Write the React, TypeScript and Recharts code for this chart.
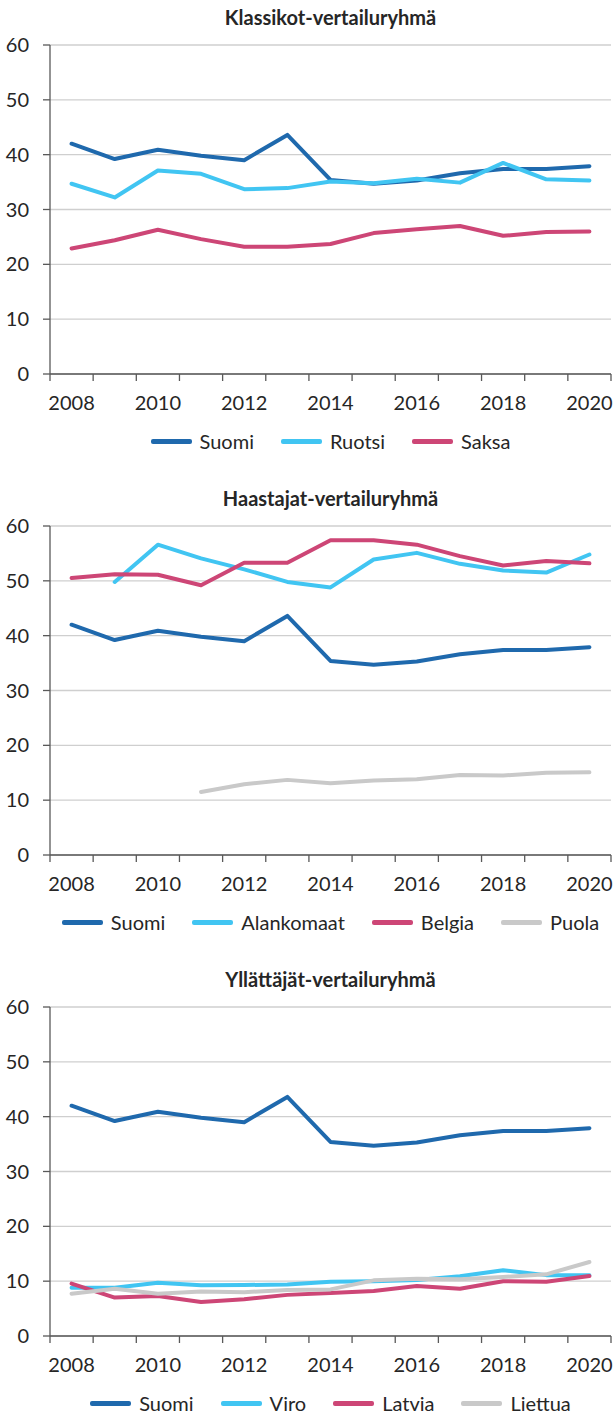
import { LineChart, Line, XAxis, YAxis, CartesianGrid } from "recharts";

// ─── Data ─────────────────────────────────────────────────────────────────────
const YEARS = ["2008", "2009", "2010", "2011", "2012", "2013", "2014", "2015", "2016", "2017", "2018", "2019", "2020"];
const Y_TICKS = [0, 10, 20, 30, 40, 50, 60];

const suomi = [42.0, 39.2, 40.9, 39.8, 39.0, 43.6, 35.4, 34.7, 35.3, 36.6, 37.4, 37.4, 37.9];
const ruotsi = [34.7, 32.2, 37.1, 36.5, 33.7, 33.9, 35.1, 34.8, 35.6, 34.9, 38.5, 35.5, 35.3];
const saksa = [22.9, 24.4, 26.3, 24.6, 23.2, 23.2, 23.7, 25.7, 26.4, 27.0, 25.2, 25.9, 26.0];

const alankomaat = [null, 49.8, 56.6, 54.1, 52.1, 49.8, 48.8, 53.9, 55.1, 53.1, 51.9, 51.5, 54.8];
const belgia = [50.5, 51.2, 51.1, 49.2, 53.3, 53.3, 57.4, 57.4, 56.6, 54.5, 52.8, 53.6, 53.2];
const puola = [null, null, null, 11.5, 12.9, 13.7, 13.1, 13.6, 13.8, 14.6, 14.5, 15.0, 15.1];

const viro = [8.8, 8.8, 9.7, 9.25, 9.3, 9.4, 9.9, 10.0, 10.2, 10.9, 12.0, 11.1, 11.1];
const latvia = [9.55, 7.0, 7.3, 6.2, 6.7, 7.5, 7.85, 8.2, 9.1, 8.6, 10.0, 9.9, 10.95];
const liettua = [7.7, 8.6, 7.7, 8.1, 8.0, 8.4, 8.5, 10.15, 10.45, 10.35, 10.75, 11.25, 13.5];

// ─── Style ────────────────────────────────────────────────────────────────────
const DARK_BLUE = "#1f69ad";
const LIGHT_BLUE = "#41c5f2";
const PINK = "#cd4676";
const GREY = "#c9c9c9";

const FONT = "Lato, 'Open Sans', sans-serif";
const TEXT = "#262626";
const AXIS = "#595959";

const W = 614;
const H = 481;
const LEFT = 50;
const RIGHT = 3;
const PLOT_W = W - LEFT - RIGHT;
const BAND = PLOT_W / YEARS.length;

type Series = { name: string; values: (number | null)[]; color: string };

// Excel-style category ticks: marks between years, label every other year
function YearTick(props: any) {
  const { x, y, index, payload } = props;
  const half = BAND / 2;
  return (
    <g>
      <line x1={x - half} x2={x - half} y1={y} y2={y + 7} stroke={AXIS} strokeWidth={1.3} />
      {index === YEARS.length - 1 && (
        <line x1={x + half} x2={x + half} y1={y} y2={y + 7} stroke={AXIS} strokeWidth={1.3} />
      )}
      {index % 2 === 0 && (
        <text x={x} y={y + 36} textAnchor="middle" fill={TEXT} fontSize={20} fontFamily={FONT}>
          {payload.value}
        </text>
      )}
    </g>
  );
}

function Panel({ title, series }: { title: string; series: Series[] }) {
  const rows = YEARS.map((year, i) => {
    const row: Record<string, string | number | null> = { year };
    series.forEach((s) => (row[s.name] = s.values[i]));
    return row;
  });

  return (
    <div style={{ position: "relative", width: W, height: H }}>
      <div
        style={{
          position: "absolute",
          left: LEFT,
          width: PLOT_W,
          top: 4,
          lineHeight: "26px",
          textAlign: "center",
          fontFamily: FONT,
          fontWeight: 700,
          fontSize: 20,
          color: TEXT,
        }}
      >
        {title}
      </div>

      <LineChart width={W} height={H} data={rows} margin={{ top: 45, right: RIGHT, left: 0, bottom: 77 }}>
        <CartesianGrid vertical={false} stroke="#cfcfcf" strokeWidth={1.3} />
        <XAxis
          dataKey="year"
          height={30}
          interval={0}
          padding={{ left: BAND / 2, right: BAND / 2 }}
          tickSize={0}
          tickMargin={0}
          tickLine={false}
          axisLine={{ stroke: AXIS, strokeWidth: 1.3 }}
          tick={<YearTick />}
        />
        <YAxis
          width={LEFT}
          domain={[0, 60]}
          ticks={Y_TICKS}
          interval={0}
          tickSize={7}
          tickMargin={14}
          axisLine={{ stroke: AXIS, strokeWidth: 1.3 }}
          tickLine={{ stroke: AXIS, strokeWidth: 1.3 }}
          tick={{ fill: TEXT, fontSize: 20, fontFamily: FONT }}
        />
        {series.map((s) => (
          <Line
            key={s.name}
            type="linear"
            dataKey={s.name}
            stroke={s.color}
            strokeWidth={4}
            strokeLinejoin="round"
            strokeLinecap="round"
            dot={false}
            activeDot={false}
            isAnimationActive={false}
          />
        ))}
      </LineChart>

      <div
        style={{
          position: "absolute",
          left: LEFT,
          width: PLOT_W,
          top: 429,
          height: 24,
          display: "flex",
          justifyContent: "center",
          alignItems: "center",
          gap: 27,
          fontFamily: FONT,
          fontSize: 20,
          color: TEXT,
        }}
      >
        {series.map((s) => (
          <span key={s.name} style={{ display: "flex", alignItems: "center" }}>
            <span
              style={{ display: "inline-block", width: 41, height: 5, borderRadius: 2, background: s.color, marginRight: 8 }}
            />
            {s.name}
          </span>
        ))}
      </div>
    </div>
  );
}

export default function App() {
  return (
    <div style={{ position: "absolute", top: 0, left: 0, width: W, background: "#fff" }}>
      <Panel
        title="Klassikot-vertailuryhmä"
        series={[
          { name: "Suomi", values: suomi, color: DARK_BLUE },
          { name: "Ruotsi", values: ruotsi, color: LIGHT_BLUE },
          { name: "Saksa", values: saksa, color: PINK },
        ]}
      />
      <Panel
        title="Haastajat-vertailuryhmä"
        series={[
          { name: "Suomi", values: suomi, color: DARK_BLUE },
          { name: "Alankomaat", values: alankomaat, color: LIGHT_BLUE },
          { name: "Belgia", values: belgia, color: PINK },
          { name: "Puola", values: puola, color: GREY },
        ]}
      />
      <Panel
        title="Yllättäjät-vertailuryhmä"
        series={[
          { name: "Suomi", values: suomi, color: DARK_BLUE },
          { name: "Viro", values: viro, color: LIGHT_BLUE },
          { name: "Latvia", values: latvia, color: PINK },
          { name: "Liettua", values: liettua, color: GREY },
        ]}
      />
    </div>
  );
}
